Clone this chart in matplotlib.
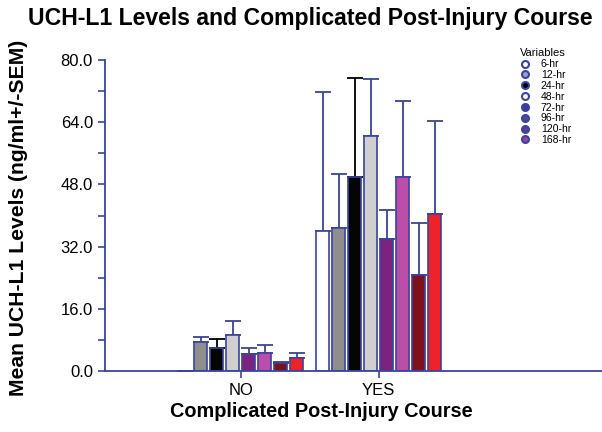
import numpy as np
import matplotlib.pyplot as plt
from matplotlib.lines import Line2D

plt.rcParams['font.family'] = ['Liberation Sans', 'DejaVu Sans']

groups = ['NO', 'YES']
variables = ['6-hr', '12-hr', '24-hr', '48-hr', '72-hr', '96-hr', '120-hr', '168-hr']
no_vals = [0.0, 7.4, 6.0, 9.4, 4.4, 4.7, 2.0, 3.3]
no_err = [0.0, 1.4, 2.2, 3.5, 1.5, 2.1, 0.3, 1.3]
yes_vals = [36.0, 36.9, 50.0, 60.4, 33.9, 50.0, 24.7, 40.3]
yes_err = [35.9, 13.8, 25.3, 14.7, 7.5, 19.4, 13.4, 23.9]

colors = ['#ffffff', '#8e8e8e', '#050505', '#cfcfcf', '#7b237f', '#bb4ea8', '#7e1119', '#ee2229']
err_colors = ['#3c4490', '#3c4490', '#000000', '#3c4490', '#3c4490', '#3c4490', '#3c4490', '#3c4490']
legend_face = ['#ffffff', '#9aa0d0', '#000000', '#ffffff', '#3c3f9a', '#4a48a0', '#5a3a9a', '#a0409a']
blue = '#3a43a0'

fig = plt.figure(figsize=(6.02, 4.32), dpi=100)
ax = fig.add_axes([0.174, 0.141, 0.826, 0.72])

x_pos = np.arange(len(groups))
pitch = 0.116
width = 0.094
for i in range(len(variables)):
    off = (i - 3.5) * pitch
    vals = [no_vals[i], yes_vals[i]]
    errs = [no_err[i], yes_err[i]]
    bars = ax.bar(x_pos + off, vals, width=width, color=colors[i],
                  edgecolor=blue, linewidth=1.2, zorder=2)
    for b, v in zip(bars, vals):
        if v == 0:
            b.set_visible(False)
    ax.errorbar(x_pos + off, vals, yerr=[[0, 0], errs], fmt='none',
                ecolor=err_colors[i], elinewidth=1.3, capsize=6, capthick=1.3, zorder=1)

ax.set_xlim(-0.986, 2.62)
ax.set_ylim(0, 80)
ax.set_yticks(np.arange(0, 81, 16))
ax.set_yticklabels(['%.1f' % v for v in np.arange(0, 81, 16)], fontsize=12)
ax.set_yticks(np.arange(8, 80, 16), minor=True)
ax.set_xticks(x_pos)
ax.set_xticklabels(groups, fontsize=12)

for s in ['top', 'right']:
    ax.spines[s].set_visible(False)
for s in ['left', 'bottom']:
    ax.spines[s].set_color(blue)
    ax.spines[s].set_linewidth(1.3)
ax.tick_params(which='both', color=blue, width=1.2, direction='out')
ax.tick_params(which='major', length=5)
ax.tick_params(which='minor', length=5)

fig.text(0.533, 0.035, 'Complicated Post-Injury Course', ha='center',
         fontsize=14.3, fontweight='bold')
fig.text(0.03, 0.495, 'Mean UCH-L1 Levels (ng/ml+/-SEM)', ha='center', va='center',
         rotation=90, fontsize=15.2, fontweight='bold')
fig.text(0.515, 0.942, 'UCH-L1 Levels and Complicated Post-Injury Course',
         ha='center', fontsize=16.6, fontweight='bold')

handles = [Line2D([], [], marker='o', linestyle='none', markersize=5,
                  markerfacecolor=legend_face[i], markeredgecolor=blue,
                  markeredgewidth=1.5) for i in range(len(variables))]
leg = fig.legend(handles, variables, title='Variables', loc='upper left',
                 bbox_to_anchor=(0.855, 0.9), frameon=False, fontsize=7.5,
                 title_fontsize=8, handletextpad=1.0, labelspacing=0.08,
                 borderpad=0, handlelength=1.0)
leg._legend_box.align = 'left'

plt.savefig('out.png', dpi=100)
